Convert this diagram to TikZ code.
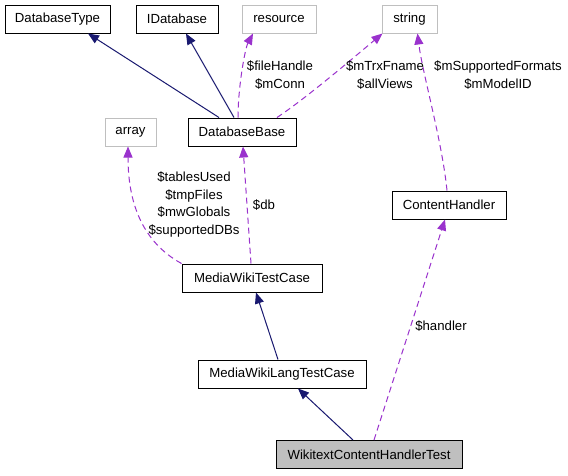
\documentclass[tikz,border=0pt]{standalone}
\usepackage{fontspec}
\setmainfont{Liberation Sans}
\usetikzlibrary{arrows.meta}
\definecolor{edgeblue}{HTML}{191970}
\definecolor{edgepurple}{HTML}{9A32CD}
\definecolor{boxgray}{HTML}{BFBFBF}
\begin{document}
\begin{tikzpicture}[x=1pt,y=-1pt, font=\fontsize{13.2}{17.5}\selectfont,
 cls/.style={draw=black, line width=1pt, fill=white, minimum height=28pt, inner sep=0pt},
 ext/.style={draw=boxgray, line width=1pt, fill=white, minimum height=28pt, inner sep=0pt},
 inh/.style={draw=edgeblue, line width=1pt, -{Triangle[length=11pt,width=9pt]}},
 use/.style={draw=edgepurple, line width=1pt, dash pattern=on 6pt off 4pt, -{Triangle[length=11pt,width=9pt]}},
 lbl/.style={align=center, inner sep=0pt}]
\fill[white] (0,0) rectangle (568,475);
\useasboundingbox (0,0) rectangle (568,475);
\node[cls, minimum width=105pt] (dbtype) at (57.5,19) {DatabaseType};
\node[cls, minimum width=82pt] (idb) at (177,19) {IDatabase};
\node[ext, minimum width=74pt] (res) at (279,19) {resource};
\node[ext, minimum width=55pt] (str) at (409.5,19) {string};
\node[ext, minimum width=51pt] (arr) at (130.5,132) {array};
\node[cls, minimum width=108pt] (dbb) at (242,132) {DatabaseBase};
\node[cls, minimum width=114pt] (ch) at (449,205) {ContentHandler};
\node[cls, minimum width=140pt] (mwtc) at (252,278) {MediaWikiTestCase};
\node[cls, minimum width=168pt] (mwltc) at (282,374) {MediaWikiLangTestCase};
\node[cls, fill=boxgray, minimum width=186pt] (wcht) at (369,454.5) {WikitextContentHandlerTest};

\draw[inh] ([xshift=-23pt]dbb.north) -- ([xshift=30.5pt]dbtype.south);
\draw[inh] ([xshift=-8pt]dbb.north) -- ([xshift=9pt]idb.south);
\draw[use] ([xshift=-4pt]dbb.north) .. controls +(0,-30) and +(-8,15) .. ([xshift=-26pt]res.south);
\draw[use] ([xshift=35pt]dbb.north) .. controls +(30,-20) and +(-30,25) .. ([xshift=-27pt]str.south);
\draw[use] ([xshift=-2pt]ch.north) .. controls +(-5,-50) and +(5,40) .. ([xshift=8pt]str.south);
\draw[use] (mwtc.north west) .. controls +(-40,-22) and +(0,55) .. ([xshift=-2.5pt]arr.south);
\draw[use] ([xshift=-1pt]mwtc.north) -- ([xshift=1pt]dbb.south);
\draw[inh] ([xshift=-4pt]mwltc.north) -- ([xshift=4pt]mwtc.south);
\draw[inh] ([xshift=-16pt]wcht.north) -- ([xshift=16pt]mwltc.south);
\draw[use] ([xshift=5pt]wcht.north) -- ([xshift=-4pt]ch.south);

\node[lbl] (l1) at (280,75) {\$fileHandle\\\$mConn};
\node[lbl] (l2) at (385,75) {\$mTrxFname\\\$allViews};
\node[lbl] (l3) at (498,75) {\$mSupportedFormats\\\$mModelID};
\node[lbl] (l4) at (194,204.5) {\$tablesUsed\\\$tmpFiles\\\$mwGlobals\\\$supportedDBs};
\node[lbl] (l5) at (264,205) {\$db};
\node[lbl] (l6) at (441,326) {\$handler};
\end{tikzpicture}
\end{document}
